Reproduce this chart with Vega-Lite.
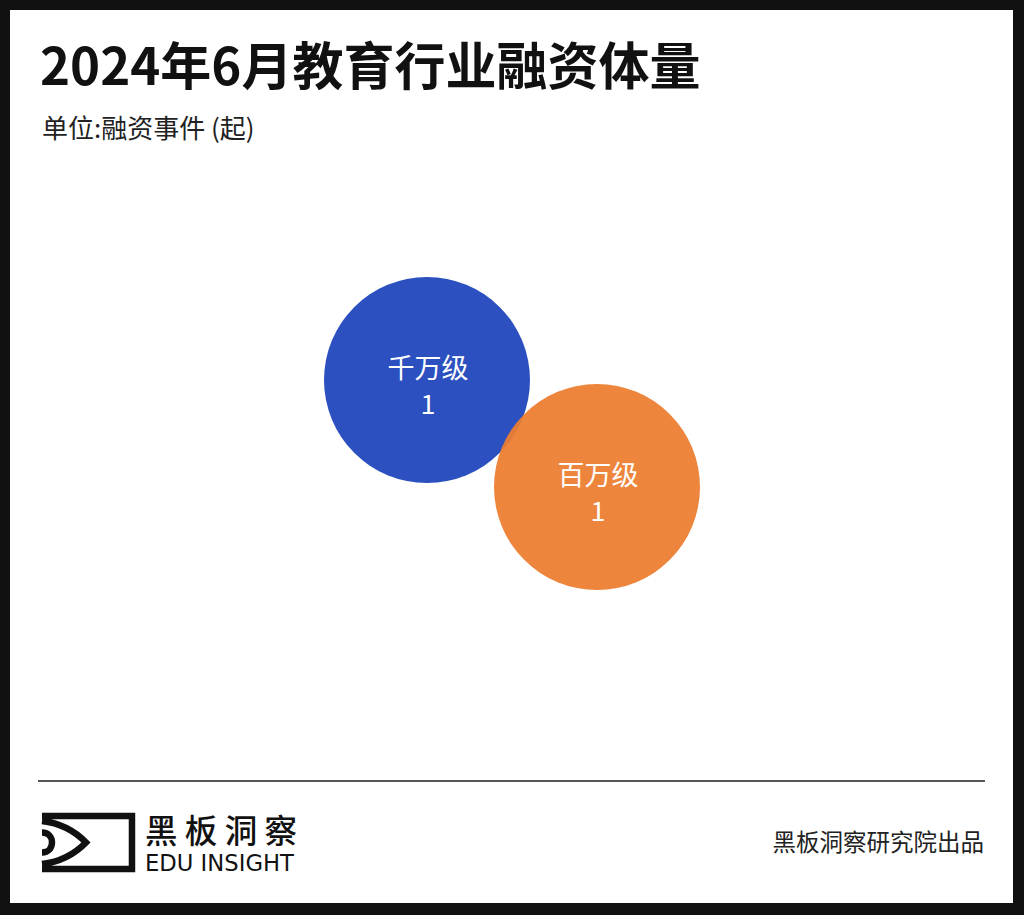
{
  "$schema": "https://vega.github.io/schema/vega-lite/v6.json",
  "width": 1024,
  "height": 915,
  "autosize": {"type": "fit", "contains": "padding"},
  "padding": {"left": 10, "top": 10, "right": 11, "bottom": 12},
  "background": "#111111",
  "config": {"view": {"stroke": null, "fill": "#ffffff"}},
  "encoding": {
    "x": {"field": "x", "type": "quantitative", "scale": {"domain": [10, 1013], "nice": false, "zero": false}, "axis": null},
    "y": {"field": "y", "type": "quantitative", "scale": {"domain": [10, 903], "nice": false, "zero": false, "reverse": true}, "axis": null}
  },
  "layer": [
    {
      "data": {"values": [{"text": "2024年6月教育行业融资体量", "x": 40, "y": 85}]},
      "mark": {"type": "text", "align": "left", "baseline": "alphabetic", "font": "Noto Sans CJK SC", "fontSize": 51, "fontWeight": "bold", "color": "#111111"},
      "encoding": {"text": {"field": "text"}}
    },
    {
      "data": {"values": [{"text": "单位:融资事件 (起)", "x": 42, "y": 138}]},
      "mark": {"type": "text", "align": "left", "baseline": "alphabetic", "font": "Noto Sans CJK SC", "fontSize": 26, "color": "#222222"},
      "encoding": {"text": {"field": "text"}}
    },
    {
      "data": {"name": "bubbles", "values": [
        {"level": "千万级", "count": 1, "x": 427, "y": 380},
        {"level": "百万级", "count": 1, "x": 597, "y": 487}
      ]},
      "layer": [
        {
          "mark": {"type": "point", "shape": "circle", "filled": true, "size": 42436, "strokeWidth": 0},
          "encoding": {
            "color": {"field": "level", "type": "nominal", "scale": {"domain": ["千万级", "百万级"], "range": ["#2c50c0", "#ed7d31"]}, "legend": null},
            "opacity": {"field": "level", "type": "nominal", "scale": {"domain": ["千万级", "百万级"], "range": [1, 0.94]}, "legend": null}
          }
        },
        {
          "mark": {"type": "text", "align": "center", "baseline": "middle", "dy": -10, "dx": 1, "font": "Noto Sans CJK SC", "fontSize": 27, "color": "#ffffff"},
          "encoding": {"text": {"field": "level"}}
        },
        {
          "mark": {"type": "text", "align": "center", "baseline": "middle", "dy": 26, "dx": 1, "font": "Noto Sans CJK SC", "fontSize": 27, "color": "#ffffff"},
          "encoding": {"text": {"field": "count", "type": "quantitative"}}
        }
      ]
    },
    {
      "data": {"values": [{"x": 38, "x2": 985, "y": 781}]},
      "mark": {"type": "rule", "color": "#555555", "strokeWidth": 2},
      "encoding": {"x2": {"field": "x2"}}
    },
    {
      "data": {"values": [{"name": "logo", "x": 88.5, "y": 842.5}]},
      "mark": {
        "type": "point",
        "filled": false,
        "size": 8649,
        "stroke": "#111111",
        "strokeWidth": 6.5,
        "strokeCap": "butt",
        "strokeJoin": "miter",
        "opacity": 1,
        "shape": "M -1 -0.570 L 0.935 -0.570 L 0.935 0.570 L -1 0.570 M -1 -0.462 Q -0.441 -0.398 -0.054 0 Q -0.441 0.398 -1 0.462 M -1 -0.215 C -0.714 -0.215 -0.714 0.215 -1 0.215"
      }
    },
    {
      "data": {"values": [{"text": "黑 板 洞 察", "x": 145, "y": 843}]},
      "mark": {"type": "text", "align": "left", "baseline": "alphabetic", "font": "Noto Sans CJK SC", "fontSize": 32.5, "fontWeight": 500, "color": "#111111"},
      "encoding": {"text": {"field": "text"}}
    },
    {
      "data": {"values": [{"text": "EDU INSIGHT", "x": 145, "y": 871}]},
      "mark": {"type": "text", "align": "left", "baseline": "alphabetic", "font": "DejaVu Sans", "fontSize": 22.7, "color": "#111111"},
      "encoding": {"text": {"field": "text"}}
    },
    {
      "data": {"values": [{"text": "黑板洞察研究院出品", "x": 984, "y": 851}]},
      "mark": {"type": "text", "align": "right", "baseline": "alphabetic", "font": "Noto Sans CJK SC", "fontSize": 23.5, "color": "#222222"},
      "encoding": {"text": {"field": "text"}}
    }
  ]
}
